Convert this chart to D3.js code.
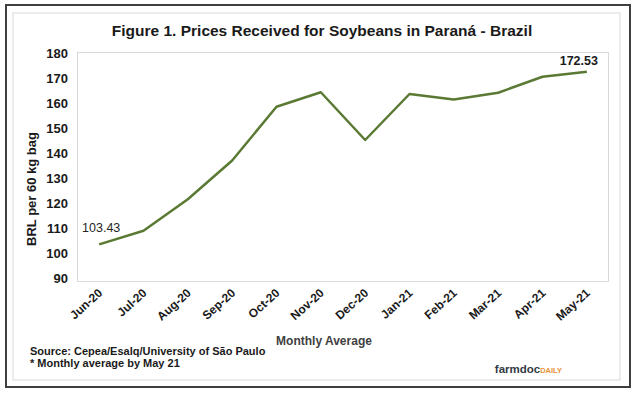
<!DOCTYPE html>
<meta charset="utf-8">
<style>
body { margin: 0; background: #fff; }
text { font-family: "Liberation Sans", Arial, Helvetica, sans-serif; }
.tick-label { font-size: 13px; font-weight: bold; fill: #1a1a1a; }
.x-label { font-size: 12px; font-weight: bold; fill: #1a1a1a; }
</style>
<body>
<script src="https://d3js.org/d3.v7.min.js"></script>
<script>
var w = 641, h = 394;

// data
var months = ["Jun-20", "Jul-20", "Aug-20", "Sep-20", "Oct-20", "Nov-20",
              "Dec-20", "Jan-21", "Feb-21", "Mar-21", "Apr-21", "May-21"];
var prices = [103.43, 108.9, 121.5, 137.0, 158.5, 164.3,
              145.2, 163.6, 161.4, 164.1, 170.5, 172.53];
var yTicks = [90, 100, 110, 120, 130, 140, 150, 160, 170, 180];

var svg = d3.select("body").append("svg")
    .attr("width", w)
    .attr("height", h);

// outer frames
svg.append("rect")
    .attr("x", 6).attr("y", 5).attr("width", 624).attr("height", 382)
    .attr("fill", "#fff").attr("stroke", "#3f3f3f").attr("stroke-width", 2);
svg.append("rect")
    .attr("x", 13).attr("y", 13).attr("width", 607).attr("height", 367)
    .attr("fill", "none").attr("stroke", "#d9d9d9").attr("stroke-width", 1);

var x = d3.scaleBand().domain(months).range([77, 609]);
var y = d3.scaleLinear().domain([90, 180]).range([278, 53]);

// plot area border
svg.append("rect")
    .attr("x", 77.5).attr("y", 52.5).attr("width", 531).attr("height", 229)
    .attr("fill", "none").attr("stroke", "#d9d9d9");

svg.append("text")
    .attr("x", 322).attr("y", 36)
    .attr("text-anchor", "middle")
    .style("font-size", "15.5px").style("font-weight", "bold").style("fill", "#1a1a1a")
    .text("Figure 1. Prices Received for Soybeans in Paraná - Brazil");

// y axis labels
svg.append("g").selectAll("text")
    .data(yTicks)
    .enter().append("text")
    .attr("class", "tick-label")
    .attr("x", 68)
    .attr("y", function(d){ return y(d); })
    .attr("dy", "0.35em")
    .attr("text-anchor", "end")
    .text(function(d){ return d; });

svg.append("text")
    .attr("transform", "translate(36,189) rotate(-90)")
    .attr("text-anchor", "middle")
    .style("font-size", "13px").style("font-weight", "bold").style("fill", "#1a1a1a")
    .text("BRL per 60 kg bag");

// x axis labels
svg.append("g").selectAll("text")
    .data(months)
    .enter().append("text")
    .attr("class", "x-label")
    .attr("text-anchor", "end")
    .attr("transform", function(d){
        return "translate(" + (x(d) + x.bandwidth() / 2 + 4) + ",294) rotate(-42)";
    })
    .text(function(d){ return d; });

svg.append("text")
    .attr("x", 324).attr("y", 345)
    .attr("text-anchor", "middle")
    .style("font-size", "12px").style("font-weight", "bold").style("fill", "#404040")
    .text("Monthly Average");

// line
var line = d3.line()
    .x(function(d, i){ return x(months[i]) + x.bandwidth() / 2; })
    .y(function(d){ return y(d); });

svg.append("path")
    .datum(prices)
    .attr("d", line)
    .attr("fill", "none")
    .attr("stroke", "#5a7a33")
    .attr("stroke-width", 2.5)
    .attr("stroke-linejoin", "round");

// first and last value labels
var first = 0, last = prices.length - 1;
svg.append("text")
    .attr("x", x(months[first]) + x.bandwidth() / 2 + 2)
    .attr("y", y(prices[first]) - 12)
    .attr("text-anchor", "middle")
    .style("font-size", "12.5px").style("fill", "#262626")
    .text(prices[first].toFixed(2));
svg.append("text")
    .attr("x", x(months[last]) + x.bandwidth() / 2 - 8)
    .attr("y", y(prices[last]) - 7)
    .attr("text-anchor", "middle")
    .style("font-size", "12.5px").style("font-weight", "bold").style("fill", "#1a1a1a")
    .text(prices[last].toFixed(2));

// source notes
svg.append("text")
    .attr("x", 30).attr("y", 355)
    .style("font-size", "11px").style("font-weight", "bold").style("fill", "#1a1a1a")
    .text("Source: Cepea/Esalq/University of São Paulo");
svg.append("text")
    .attr("x", 30).attr("y", 367)
    .style("font-size", "11px").style("font-weight", "bold").style("fill", "#1a1a1a")
    .text("* Monthly average by May 21");

// logo
var logo = svg.append("text")
    .attr("x", 562).attr("y", 373)
    .attr("text-anchor", "end");
logo.append("tspan")
    .style("font-size", "11.5px").style("font-weight", "bold").style("fill", "#333a45")
    .text("farmdoc");
logo.append("tspan")
    .style("font-size", "7.5px").style("font-weight", "bold").style("fill", "#e8923a")
    .text("DAILY");
</script>
</body>
